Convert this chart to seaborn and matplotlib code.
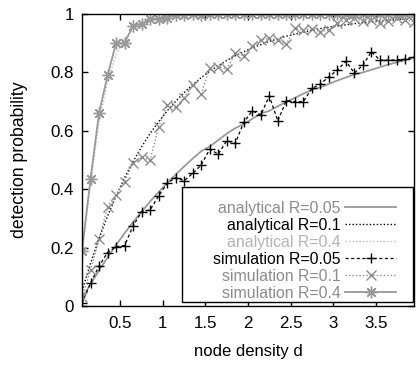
import matplotlib
matplotlib.use("Agg")
import matplotlib.pyplot as plt
import matplotlib.patches as mpatches
import seaborn as sns

# node density values (x)
density = [0.05, 0.15, 0.25, 0.35, 0.45, 0.55, 0.65, 0.75, 0.85, 0.95,
           1.05, 1.15, 1.25, 1.35, 1.45, 1.55, 1.65, 1.75, 1.85, 1.95,
           2.05, 2.15, 2.25, 2.35, 2.45, 2.55, 2.65, 2.75, 2.85, 2.95,
           3.05, 3.15, 3.25, 3.35, 3.45, 3.55, 3.65, 3.75, 3.85, 3.95]

# analytical curves
ana_r005 = [0.026, 0.075, 0.122, 0.166, 0.209, 0.249, 0.287, 0.323, 0.358, 0.390,
            0.421, 0.450, 0.478, 0.505, 0.530, 0.546, 0.568, 0.590, 0.609, 0.623,
            0.641, 0.659, 0.668, 0.684, 0.699, 0.713, 0.727, 0.740, 0.749, 0.761,
            0.772, 0.783, 0.793, 0.800, 0.809, 0.818, 0.827, 0.835, 0.842, 0.850]
ana_r01 = [0.051, 0.146, 0.231, 0.308, 0.377, 0.439, 0.495, 0.545, 0.591, 0.631,
           0.668, 0.701, 0.731, 0.758, 0.782, 0.804, 0.823, 0.841, 0.857, 0.871,
           0.884, 0.895, 0.906, 0.915, 0.924, 0.931, 0.938, 0.944, 0.950, 0.955,
           0.959, 0.963, 0.967, 0.970, 0.973, 0.976, 0.978, 0.981, 0.983, 0.984]
ana_r04 = [0.17, 0.42, 0.63, 0.77, 0.86, 0.915, 0.95, 0.97, 0.982, 0.989,
           0.994, 0.996, 0.998, 0.999, 1.0, 1.0, 1.0, 1.0, 1.0, 1.0,
           1.0, 1.0, 1.0, 1.0, 1.0, 1.0, 1.0, 1.0, 1.0, 1.0,
           1.0, 1.0, 1.0, 1.0, 1.0, 1.0, 1.0, 1.0, 1.0, 1.0]

# simulation results
sim_r005 = [0.01, 0.078, 0.137, 0.183, 0.203, 0.207, 0.274, 0.323, 0.329, 0.377,
            0.42, 0.44, 0.429, 0.454, 0.483, 0.537, 0.52, 0.566, 0.557, 0.629,
            0.668, 0.654, 0.719, 0.634, 0.703, 0.70, 0.70, 0.745, 0.76, 0.785,
            0.808, 0.838, 0.798, 0.825, 0.871, 0.842, 0.842, 0.843, 0.845, 0.854]
sim_r01 = [0.03, 0.123, 0.228, 0.34, 0.38, 0.426, 0.49, 0.51, 0.50, 0.614,
           0.687, 0.68, 0.714, 0.758, 0.727, 0.814, 0.82, 0.81, 0.865, 0.857,
           0.891, 0.911, 0.917, 0.911, 0.896, 0.951, 0.945, 0.95, 0.94, 0.945,
           0.968, 0.98, 0.985, 0.975, 0.98, 0.968, 0.975, 0.985, 0.98, 0.974]
sim_r04 = [0.19, 0.435, 0.66, 0.79, 0.90, 0.90, 0.96, 0.966, 0.983, 0.983,
           0.988, 0.995, 0.997, 1.0, 0.998, 1.0, 1.0, 0.999, 1.0, 1.0,
           1.0, 1.0, 0.999, 1.0, 1.0, 1.0, 1.0, 1.0, 0.999, 1.0,
           1.0, 1.0, 1.0, 1.0, 1.0, 0.999, 1.0, 1.0, 1.0, 1.0]

labels = ["analytical R=0.05", "analytical R=0.1", "analytical R=0.4",
          "simulation R=0.05", "simulation R=0.1", "simulation R=0.4"]
values = [ana_r005, ana_r01, ana_r04, sim_r005, sim_r01, sim_r04]
text_colors = ["#8c8c8c", "black", "#b4b4b4", "black", "#8c8c8c", "#8c8c8c"]

styles = [
    dict(color="#9a9a9a", lw=1.3, ls="-"),
    dict(color="black", lw=1.0, ls=(0, (1, 1.5))),
    dict(color="#b8b8b8", lw=1.0, ls=(0, (1, 1.5))),
    dict(color="black", lw=0.9, ls=(0, (2.5, 2)), marker="+", ms=7.5, mec="black", mew=1.0),
    dict(color="#8c8c8c", lw=1.0, ls=(0, (1, 1.5)), marker="x", ms=7, mec="#8c8c8c", mew=1.0),
    dict(color="#999999", lw=1.3, ls="-", marker=(8, 2, 0), ms=8.5, mec="#999999", mew=1.0),
]

plt.rcParams["font.family"] = ["Liberation Sans", "DejaVu Sans"]
fs = 11.4

fig = plt.figure(figsize=(4.17, 3.67), dpi=100)
ax = fig.add_axes([82 / 417, 1 - 306 / 367, 332 / 417, 292 / 367])

for lab, vals, st in zip(labels, values, styles):
    sns.lineplot(x=density, y=vals, ax=ax, label=lab, **st)

ax.set_xlim(0.05, 3.95)
ax.set_ylim(0, 1)
ax.set_xticks([0.5, 1, 1.5, 2, 2.5, 3, 3.5], ["0.5", "1", "1.5", "2", "2.5", "3", "3.5"])
ax.set_yticks([0, 0.2, 0.4, 0.6, 0.8, 1], ["0", "0.2", "0.4", "0.6", "0.8", "1"])
ax.tick_params(axis="both", direction="in", length=4, width=1, labelsize=12.2,
               top=True, right=True)
ax.tick_params(axis="x", pad=7)
ax.tick_params(axis="y", pad=6)
for sp in ax.spines.values():
    sp.set_linewidth(1)
    sp.set_color("black")

ax.set_xlabel("node density d", fontsize=12)
ax.set_ylabel("detection probability", fontsize=12.7)
ax.xaxis.set_label_coords(0.5, -(344 - 306) / 292)
ax.yaxis.set_label_coords(-(82 - 28) / 332, 0.5)

# legend box (gnuplot style)
box = mpatches.Rectangle((182 / 417, 1 - 302 / 367), (413 - 182) / 417, (302 - 187) / 367,
                         transform=fig.transFigure, fc="white", ec="black", lw=1,
                         zorder=3, clip_on=False)
ax.add_patch(box)

handles, labs = ax.get_legend_handles_labels()
leg = ax.legend(handles, labs, loc="lower right",
                bbox_to_anchor=(396 / 417, 1 - 300.5 / 367), bbox_transform=fig.transFigure,
                markerfirst=False, frameon=False, fontsize=fs, handlelength=3.2,
                handletextpad=0.3, labelspacing=0.12, borderpad=0, borderaxespad=0)
leg.set_zorder(5)
for t, c in zip(leg.get_texts(), text_colors):
    t.set_color(c)

fig.savefig("out.png", dpi=100)
